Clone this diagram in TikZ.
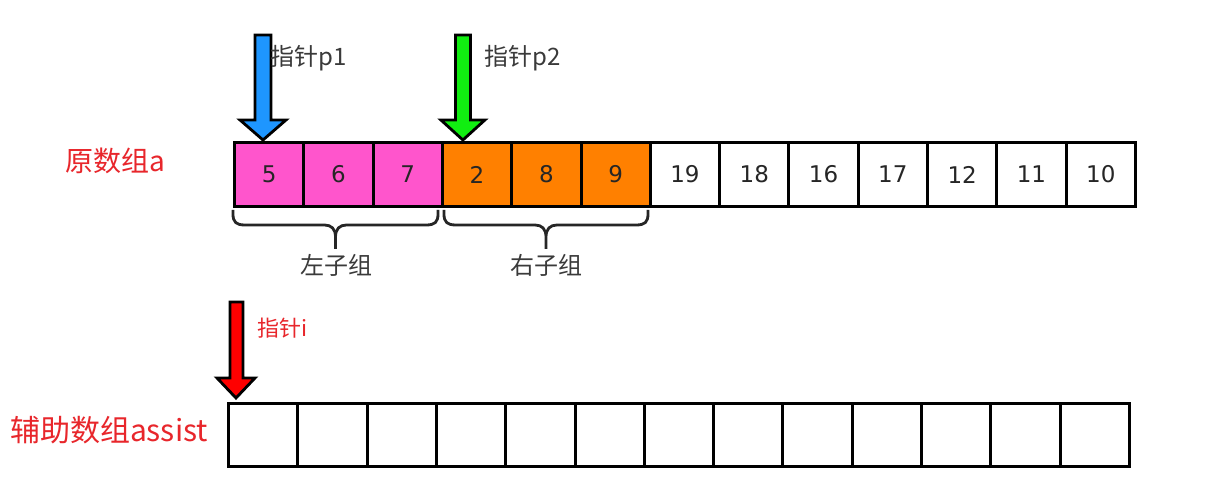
\documentclass[tikz,border=0pt]{standalone}
\usepackage{fontspec}
\setmainfont{DejaVu Sans}
\newfontfamily\cjk{Noto Sans CJK SC}
\definecolor{cellpink}{HTML}{FF55CC}
\definecolor{cellorange}{HTML}{FF8000}
\definecolor{ptrblue}{HTML}{1E96FF}
\definecolor{ptrgreen}{HTML}{11EE11}
\definecolor{ptrred}{HTML}{FF0000}
\definecolor{labred}{HTML}{E8262B}
\definecolor{labgray}{HTML}{3A3A3A}
\tikzset{
  cell/.style={draw=black, line width=1.5pt, minimum width=34.65pt, minimum height=32pt, inner sep=0pt, anchor=north west, font=\fontsize{11.5}{13}\selectfont, text=black!85},
  bcell/.style={cell, minimum height=31.5pt},
  ptrshape/.style={draw=black, line width=1.4pt, line join=miter},
  bracestyle/.style={draw=black!85, line width=1.4pt},
  ptrlabel/.style={font=\cjk\fontsize{12}{14}\selectfont, text=labgray},
  arrlabel/.style={font=\cjk\fontsize{14}{16}\selectfont, text=labred},
}
\newcommand{\mybrace}[2]{%
  \pgfmathsetmacro\bm{(#1+#2)/2}%
  \draw[bracestyle] (#1,210) -- (#1,214) .. controls (#1,222) and (#1+3,225) .. (#1+12,225)
    -- (\bm-11,225) .. controls (\bm-4,225) and (\bm,229) .. (\bm,237) -- (\bm,249)
    -- (\bm,237) .. controls (\bm,229) and (\bm+4,225) .. (\bm+11,225)
    -- (#2-12,225) .. controls (#2-3,225) and (#2,222) .. (#2,214) -- (#2,210);%
}
\begin{document}
\begin{tikzpicture}[x=0.5pt,y=-0.5pt]
\useasboundingbox[fill=white] (0,0) rectangle (1221,501);
% top array
\foreach \v [count=\i from 0] in {5,6,7,2,8,9,19,18,16,17,12,11,10} {
  \pgfmathsetmacro\xx{233+69.3*\i}
  \ifnum\i<3
    \node[cell, fill=cellpink] (a\i) at (\xx,141) {\v};
  \else\ifnum\i<6
    \node[cell, fill=cellorange] (a\i) at (\xx,141) {\v};
  \else
    \node[cell, fill=white] (a\i) at (\xx,141) {\v};
  \fi\fi
}
% bottom array
\foreach \i in {0,...,12} {
  \pgfmathsetmacro\xx{227+69.3*\i}
  \node[bcell, fill=white] (b\i) at (\xx,402) {};
}
% pointers
\begin{scope}[shift={(a0.north west)}]
  \fill[ptrblue] (30,-1) -- (7,-21) -- (22,-21) -- (22,-106) -- (38,-106) -- (38,-21) -- (53,-21) -- cycle;
  \draw[ptrshape] (30,-1) -- (7,-21) -- (22,-21) -- (22,-106) -- (38,-106) -- (38,-21) -- (53,-21) -- cycle;
\end{scope}
\begin{scope}[shift={(a3.north west)}]
  \fill[ptrgreen] (22,-1) -- (0,-21) -- (14.5,-21) -- (14.5,-106) -- (29.5,-106) -- (29.5,-21) -- (44,-21) -- cycle;
  \draw[ptrshape] (22,-1) -- (0,-21) -- (14.5,-21) -- (14.5,-106) -- (29.5,-106) -- (29.5,-21) -- (44,-21) -- cycle;
\end{scope}
\begin{scope}[shift={(b0.north west)}]
  \fill[ptrred] (9,-4) -- (-10,-24) -- (3,-24) -- (3,-100) -- (16,-100) -- (16,-24) -- (28,-24) -- cycle;
  \draw[ptrshape] (9,-4) -- (-10,-24) -- (3,-24) -- (3,-100) -- (16,-100) -- (16,-24) -- (28,-24) -- cycle;
\end{scope}
% labels
\node[ptrlabel] (lp1) at (309,58) {指针p1};
\node[ptrlabel] (lp2) at (523,58) {指针p2};
\node[ptrlabel, text=labred, font=\cjk\fontsize{11}{13}\selectfont] (li) at (283,328) {指针i};
\node[arrlabel] (la) at (115,161) {原数组a};
\node[arrlabel, font=\cjk\fontsize{15}{17}\selectfont] (lb) at (109,430) {辅助数组assist};
% braces
\mybrace{233}{438}
\mybrace{444}{648}
\node[ptrlabel] (lleft) at (336,265) {左子组};
\node[ptrlabel] (lright) at (546,265) {右子组};
\end{tikzpicture}
\end{document}
